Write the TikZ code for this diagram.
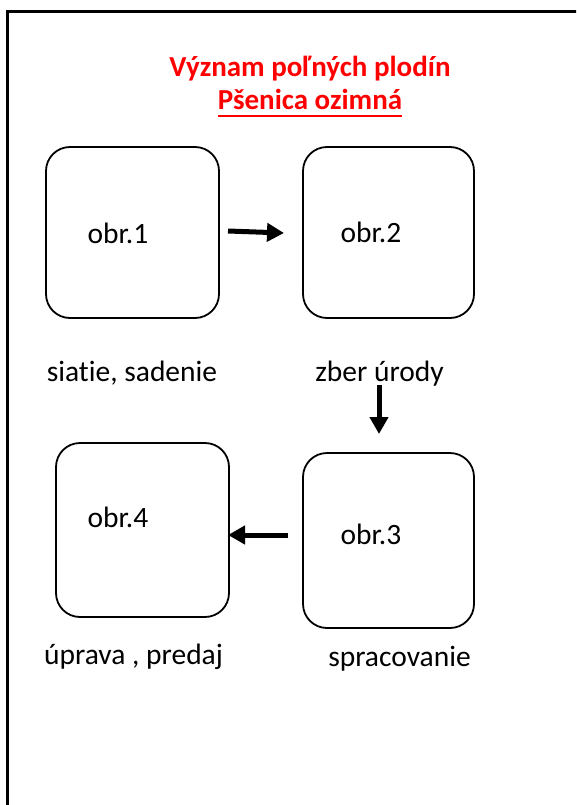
\documentclass[tikz,border=0pt]{standalone}
\usepackage{fontspec}
\setmainfont{Carlito}[Ligatures=NoCommon]
\usetikzlibrary{arrows.meta}
\tikzset{
  box/.style={draw=black, line width=1.8pt, rounded corners=24pt, inner sep=0pt},
  txt/.style={inner sep=0pt, anchor=base, font=\fontsize{29.5}{34}\selectfont},
  ttl/.style={inner sep=0pt, anchor=base, text=red, font=\fontsize{29}{34}\selectfont\bfseries},
  flow/.style={line width=5pt, -{Triangle[length=17pt,width=18pt]}}
}
\begin{document}
\begin{tikzpicture}[x=1pt,y=-1pt]
\useasboundingbox (0,0) rectangle (576,805);
\clip (0,0) rectangle (576,805);
\fill[white] (0,0) rectangle (576,805);
% frame
\draw[line width=3pt] (7.5,820) -- (7.5,11.5) -- (590,11.5);
% title
\node[ttl] (t1) at (310,77) {Význam poľných plodín};
\node[ttl] (t2) at (310,110) {Pšenica ozimná};
\draw[red, line width=2pt] ([yshift=-6pt]t2.base west) -- ([yshift=-6pt]t2.base east);
% boxes
\draw[box] (46,147) rectangle (219,318);
\node[inner sep=0pt, minimum width=173pt, minimum height=171pt] (b1) at (132.5,232.5) {};
\draw[box] (303,147) rectangle (474,318);
\node[inner sep=0pt, minimum width=171pt, minimum height=171pt] (b2) at (388.5,232.5) {};
\draw[box] (303,453) rectangle (474,628);
\node[inner sep=0pt, minimum width=171pt, minimum height=175pt] (b3) at (388.5,540.5) {};
\draw[box] (56,443) rectangle (229,617);
\node[inner sep=0pt, minimum width=173pt, minimum height=174pt] (b4) at (142.5,530) {};
% box texts
\node[txt] (o1) at (118,243) {obr.1};
\node[txt] (o2) at (371,242) {obr.2};
\node[txt] (o3) at (371,544) {obr.3};
\node[txt] (o4) at (118,527) {obr.4};
% captions
\node[txt] (c1) at (132,381) {siatie, sadenie};
\node[txt] (c2) at (379.5,381) {zber úrody};
\node[txt] (c3) at (399.5,666) {spracovanie};
\node[txt] (c4) at (133.5,664) {úprava , predaj};
% arrows
\coordinate (a1s) at (228,231);
\coordinate (a1e) at (284,233);
\coordinate (a2s) at (379,385);
\coordinate (a2e) at (379,434);
\coordinate (a3s) at (288,535);
\coordinate (a3e) at (228,535);
\draw[flow] (a1s) -- (a1e);
\draw[flow] (a2s) -- (a2e);
\draw[flow] (a3s) -- (a3e);
\end{tikzpicture}
\end{document}
